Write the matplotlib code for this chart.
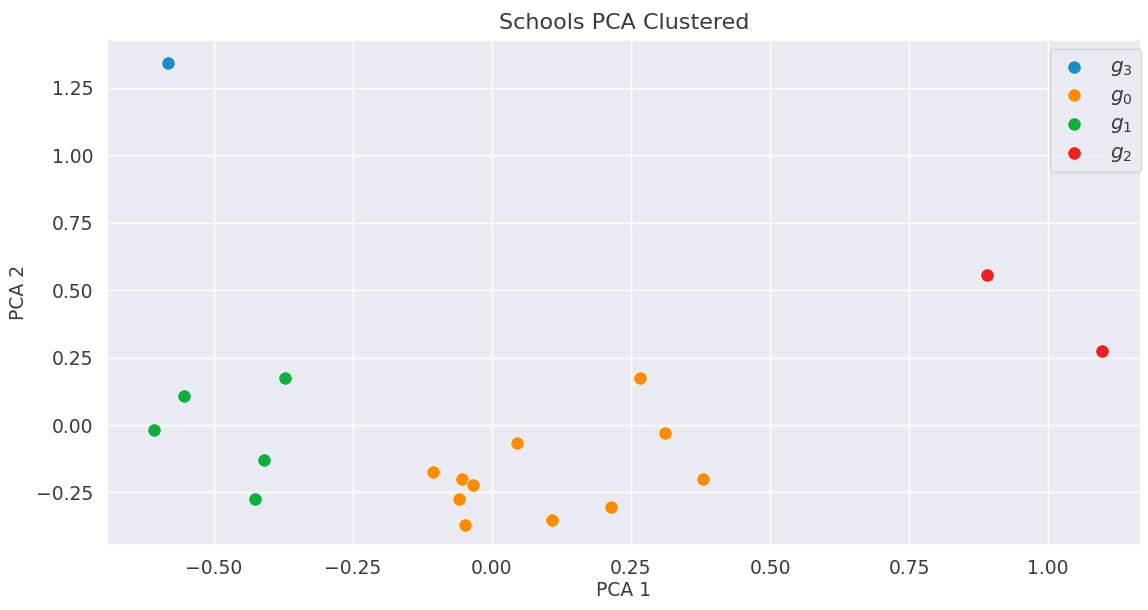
import matplotlib
matplotlib.use("Agg")
import matplotlib.pyplot as plt
import seaborn as sns

sns.set_theme(style="darkgrid")
plt.rcParams["text.color"] = "#3a3a3a"
plt.rcParams["axes.labelcolor"] = "#3a3a3a"
plt.rcParams["xtick.color"] = "#3a3a3a"
plt.rcParams["ytick.color"] = "#3a3a3a"

groups = ["g3", "g0", "g1", "g2"]
labels = [r"$g_3$", r"$g_0$", r"$g_1$", r"$g_2$"]
colors = ["#1a8cc8", "#ff8c00", "#10b040", "#ee2020"]

g3_x = [-0.583]
g3_y = [1.343]
g0_x = [-0.106, -0.054, -0.034, -0.059, -0.049, 0.045, 0.108, 0.214, 0.266, 0.311, 0.380]
g0_y = [-0.174, -0.200, -0.223, -0.274, -0.371, -0.067, -0.352, -0.304, 0.174, -0.030, -0.200]
g1_x = [-0.608, -0.554, -0.372, -0.410, -0.426]
g1_y = [-0.019, 0.108, 0.174, -0.130, -0.274]
g2_x = [0.890, 1.097]
g2_y = [0.556, 0.274]

xs = [g3_x, g0_x, g1_x, g2_x]
ys = [g3_y, g0_y, g1_y, g2_y]


def fmt(v, pos=None):
    return f"{v:.2f}".replace("-", "\u2212")


fig = plt.figure(figsize=(11.48, 6.10), dpi=100)
ax = fig.add_axes([107/1148, 1-545/610, (1141-107)/1148, (545-40)/610])
for x, y, lab, c in zip(xs, ys, labels, colors):
    ax.scatter(x, y, s=95, color=c, edgecolor="white", linewidth=0.6, label=lab, zorder=3)

ax.set_xlim(-0.692, 1.167)
ax.set_ylim(-0.445, 1.428)
ax.set_xticks([-0.5, -0.25, 0.0, 0.25, 0.5, 0.75, 1.0])
ax.set_yticks([-0.25, 0.0, 0.25, 0.5, 0.75, 1.0, 1.25])
ax.xaxis.set_major_formatter(matplotlib.ticker.FuncFormatter(fmt))
ax.yaxis.set_major_formatter(matplotlib.ticker.FuncFormatter(fmt))
ax.tick_params(labelsize=13.5, length=0, pad=10)
ax.set_xlabel("PCA 1", fontsize=13.5, labelpad=2)
ax.set_ylabel("PCA 2", fontsize=13.5, labelpad=6)
ax.set_title("Schools PCA Clustered", fontsize=16, pad=8)
ax.legend(loc="upper right", bbox_to_anchor=(1141/1148, 1-49/610),
          bbox_transform=fig.transFigure, borderaxespad=0,
          fontsize=14.5, handlelength=1.6, handletextpad=1.0,
          labelspacing=0.38, borderpad=0.4)

fig.savefig("out.png", dpi=100)
